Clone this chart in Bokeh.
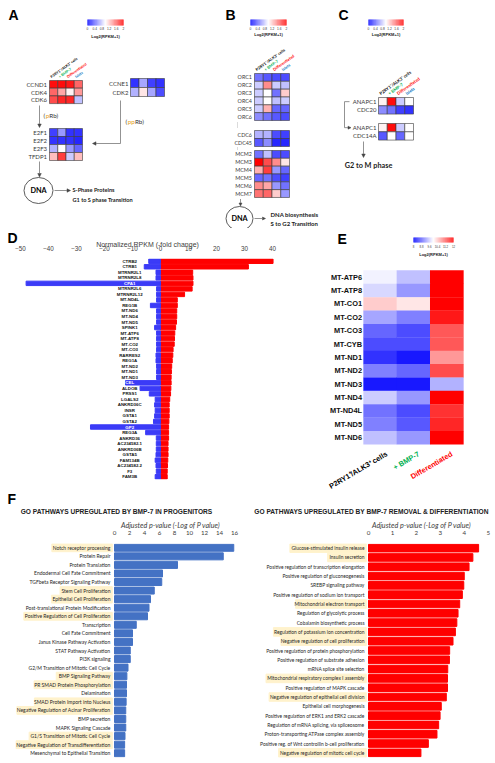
import numpy as np
from bokeh.plotting import figure
from bokeh.models import Range1d, Arrow, NormalHead, FixedTicker, LinearColorMapper, ColumnDataSource
from bokeh.layouts import row, column
from bokeh.transform import transform
from bokeh.core.properties import value
from bokeh.embed import file_html
from bokeh.resources import INLINE

# ---------------- DATA ----------------
condition_labels = ["P2RY1⁺/ALK3⁺ cells", "+ BMP-7", "Differentiated", "Islets"]
condition_colors = ["#000000", "#00B050", "#FF0000", "#0070C0"]

a_cycd_genes = ["CCND1", "CDK4", "CDK6"]
a_cycd_vals = [[1.95, 1.95, 1.9, 1.6],
               [1.6, 1.35, 1.05, 1.4],
               [1.7, 1.85, 1.85, 0.75]]
a_cyce_genes = ["CCNE1", "CDK2"]
a_cyce_vals = [[0.2, 0.65, 0.25, 0.2],
               [0.7, 1.1, 0.65, 0.3]]
a_e2f_genes = ["E2F1", "E2F2", "E2F3", "TFDP1"]
a_e2f_vals = [[0.25, 0.6, 0.2, 0.2],
              [0.2, 0.2, 0.2, 0.15],
              [0.7, 1.0, 0.6, 0.4],
              [1.25, 1.75, 0.8, 1.25]]

b_orc_genes = ["ORC1", "ORC2", "ORC3", "ORC4", "ORC5", "ORC6"]
b_orc_vals = [[0.45, 0.35, 0.3, 0.3],
              [0.8, 1.45, 0.8, 0.75],
              [0.8, 1.0, 0.45, 1.2],
              [0.8, 1.0, 0.75, 0.8],
              [0.8, 1.3, 0.4, 0.4],
              [0.55, 0.45, 0.35, 0.3]]
b_cdc_genes = ["CDC6", "CDC45"]
b_cdc_vals = [[0.7, 0.7, 0.3, 0.25],
              [0.35, 0.55, 0.15, 0.15]]
b_mcm_genes = ["MCM2", "MCM3", "MCM4", "MCM5", "MCM6", "MCM7"]
b_mcm_vals = [[0.45, 0.75, 0.3, 0.3],
              [2.0, 1.7, 1.45, 1.1],
              [1.3, 1.75, 0.6, 0.4],
              [0.4, 0.45, 0.3, 0.25],
              [1.45, 1.35, 0.6, 0.45],
              [1.55, 1.6, 1.2, 0.6]]

c_apc_genes = ["ANAPC1", "CDC20"]
c_apc_vals = [[1.05, 1.95, 0.8, 1.0],
              [0.55, 0.45, 0.25, 0.2]]
c_cdc14_genes = ["ANAPC1", "CDC14A"]
c_cdc14_vals = [[1.05, 1.95, 0.8, 1.0],
                [0.35, 1.0, 0.4, 1.0]]

abc_ticks = [0, 0.4, 0.8, 1.2, 1.6, 2]
e_ticks = [8, 8.8, 9.6, 10.4, 11.2, 12]

d_title = "Normalized RPKM (-fold change)"
d_genes = ["CTRB2", "CTRB1", "MTRNR2L1", "MTRNR2L8", "CPA1", "MTRNR2L6", "MTRNR2L12",
           "MT-ND4L", "REG1B", "MT-ND6", "MT-ND4", "MT-ND5", "SPINK1", "MT-ATP6", "MT-ATP8",
           "MT-CO2", "MT-CO3", "RARRES2", "REG1A", "MT-ND2", "MT-ND1", "MT-ND3", "CEL", "ALDOB",
           "PRSS1", "LGALS2", "ANKRD36C", "INSR", "GSTA1", "GSTA2", "GP2", "REG3A", "ANKRD36",
           "AC234582.1", "ANKRD36B", "GSTA5", "FAM134B", "AC234582.2", "F3", "FAM3B"]
d_up = [40.2, 31.4, 11.5, 11.6, 11.6, 11.3, 8.6, 6.0, 6.0, 5.8, 5.8, 5.7, 5.4, 5.1, 5.0,
        4.9, 4.5, 4.4, 4.2, 4.0, 3.9, 3.8, 3.8, 3.7, 3.6, 3.3, 3.1, 3.1, 3.1, 3.0,
        2.9, 2.9, 2.9, 2.7, 2.7, 2.7, 2.6, 2.5, 2.4, 2.4]
d_down = [-4.2, -5.8, -1.6, -1.6, -48.0, -1.4, -1.4, -1.4, -3.6, -1.4, -1.4, -1.4, -2.1, -1.4, -1.4,
          -1.4, -1.4, -1.6, -1.6, -1.4, -1.4, -1.4, -12.5, -7.3, -4.0, -1.9, -2.1, -1.9, -2.1, -2.5,
          -25.0, -5.3, -1.5, -1.5, -1.5, -1.6, -1.9, -1.6, -1.5, -1.9]
d_ticks = [-50, -40, -30, -20, -10, 0, 10, 20, 30, 40]
d_white_labels = ["CPA1", "CEL", "GP2"]

e_genes = ["MT-ATP6", "MT-ATP8", "MT-CO1", "MT-CO2", "MT-CO3", "MT-CYB", "MT-ND1",
           "MT-ND2", "MT-ND3", "MT-ND4", "MT-ND4L", "MT-ND5", "MT-ND6"]
e_conditions = ["P2RY1⁺/ALK3⁺ cells", "+ BMP-7", "Differentiated"]
e_vals = [[9.9, 9.5, 12.0],
          [9.7, 9.2, 12.0],
          [10.4, 10.2, 12.0],
          [9.3, 9.0, 11.8],
          [8.8, 8.6, 11.3],
          [8.6, 8.6, 11.3],
          [8.4, 8.2, 10.8],
          [9.0, 8.8, 11.4],
          [8.2, 8.2, 9.4],
          [9.6, 9.2, 12.0],
          [8.9, 8.6, 11.6],
          [9.0, 8.7, 11.7],
          [9.5, 9.2, 12.0]]

f1_title = "GO PATHWAYS UPREGULATED BY BMP-7 IN PROGENITORS"
f2_title = "GO PATHWAYS UPREGULATED BY BMP-7 REMOVAL & DIFFERENTIATION"
f_axis_title = "Adjusted p-value (-Log of P value)"
f1_terms = ["Notch receptor processing", "Protein Repair", "Protein Translation",
            "Endodermal Cell Fate Commitment", "TGFbeta Receptor Signaling Pathway",
            "Stem Cell Proliferation", "Epithelial Cell Proliferation",
            "Post-translational Protein Modification", "Positive Regulation of Cell Proliferation",
            "Transcription", "Cell Fate Commitment", "Janus Kinase Pathway Activation",
            "STAT Pathway Activation", "PI3K signaling", "G2/M Transition of Mitotic Cell Cycle",
            "BMP Signaling Pathway", "PR SMAD Protein Phosphorylation", "Delamination",
            "SMAD Protein Import into Nucleus", "Negative Regulation of Acinar Proliferation",
            "BMP secretion", "MAPK Signaling Cascade", "G1/S Transition of Mitotic Cell Cycle",
            "Negative Regulation of Transdifferentiation", "Mesenchymal to Epithelial Transition"]
f1_vals = [15.9, 14.5, 8.4, 6.4, 6.3, 5.3, 4.8, 4.6, 4.4, 2.9, 2.4, 2.4, 2.1, 2.1, 1.8,
           1.65, 1.6, 1.6, 1.55, 1.5, 1.5, 1.5, 1.4, 1.35, 1.35]
f1_highlight = [1, 0, 0, 0, 0, 1, 1, 0, 1, 0, 0, 0, 0, 0, 0, 1, 1, 0, 1, 1, 0, 0, 1, 1, 0]
f1_ticks = [0, 2, 4, 6, 8, 10, 12, 14, 16]

f2_terms = ["Glucose-stimulated insulin release", "Insulin secretion",
            "Positive regulation of transcription elongation",
            "Positive regulation of gluconeogenesis", "SREBP signaling pathway",
            "Positive regulation of sodium ion transport", "Mitochondrial electron transport",
            "Regulation of glycolytic process", "Cobalamin biosynthetic process",
            "Regulation of potassium ion concentration", "Negative regulation of cell proliferation",
            "Positive regulation of protein phosphorylation",
            "Positive regulation of substrate adhesion", "mRNA splice site selection",
            "Mitochondrial respiratory complex I assembly", "Positive regulation of MAPK cascade",
            "Negative regulation of epithelial cell division", "Epithelial cell morphogenesis",
            "Positive regulation of ERK1 and ERK2 cascade",
            "Regulation of mRNA splicing, via spliceosome",
            "Proton-transporting ATPase complex assembly",
            "Positive reg. of Wnt controllin b-cell proliferation",
            "Negative regulation of mitotic cell cycle"]
f2_vals = [4.6, 4.36, 4.2, 4.0, 3.98, 3.92, 3.81, 3.74, 3.69, 3.63, 3.53, 3.39, 3.38,
           3.31, 3.3, 3.3, 3.25, 3.04, 2.99, 2.93, 2.86, 2.5, 2.19]
f2_highlight = [1, 1, 0, 0, 0, 0, 1, 0, 0, 1, 1, 0, 0, 0, 1, 0, 1, 0, 0, 0, 0, 0, 1]
f2_ticks = [0, 1, 2, 3, 4, 5]


# ---------------- HELPERS ----------------
def bwr_palette(n=256):
    cols = []
    for i in range(n):
        t = i / (n - 1)
        if t < 0.5:
            s = t / 0.5
            r = g = int(round(255 * s)); b = 255
        else:
            s = (t - 0.5) / 0.5
            r = 255; g = b = int(round(255 * (1 - s)))
        cols.append(f"#{r:02x}{g:02x}{b:02x}")
    return cols

BWR = bwr_palette()
OV = dict(level="overlay")
PX = dict(x_range_name="px", y_range_name="px", level="overlay")


def canvas(w, h):
    p = figure(width=w, height=h, x_range=Range1d(0, w), y_range=Range1d(h, 0),
               x_axis_type=None, y_axis_type=None, output_backend="svg",
               toolbar_location=None, min_border=0)
    p.outline_line_color = None
    return p


def txt(p, x, y, s, size, color="#000000", font="Liberation Sans", style="normal",
        align="left", baseline="middle", angle=0.0, **rk):
    if not isinstance(s, (list, tuple)):
        x, y, s = [x], [y], [s]
    kw = dict(text_font=value(font), text_font_size=value(f"{size}px"), text_font_style=style,
              text_align=align, text_baseline=baseline, angle=angle)
    kw.update(rk)
    if isinstance(color, (list, tuple)):
        src = ColumnDataSource(dict(x=list(x), y=list(y), t=list(s), c=list(color)))
        p.text(x="x", y="y", text="t", text_color="c", source=src, **kw)
    else:
        p.text(x=list(x), y=list(y), text=list(s), text_color=color, **kw)


def heatmap(p, genes, vals, x0, y0, cw, rh, mapper, gap=2.5, lsize=6.0, lfont="Lato",
            lstyle="normal", lcolor="#3a3a3a", border="#3a3a3a", **rk):
    xs, ys, vs = [], [], []
    for i, rv in enumerate(vals):
        for j, v in enumerate(rv):
            xs.append(x0 + (j + 0.5) * cw)
            ys.append(y0 + (i + 0.5) * rh)
            vs.append(v)
    src = ColumnDataSource(dict(x=xs, y=ys, v=vs))
    if border:
        p.rect(x="x", y="y", width=cw, height=rh, source=src, fill_color=transform("v", mapper),
               line_color=border, line_width=0.6, **rk)
    else:
        p.rect(x="x", y="y", width=cw * 1.01, height=rh * 1.02, source=src,
               fill_color=transform("v", mapper), line_color=None, **rk)
    ly = [y0 + (i + 0.5) * rh for i in range(len(genes))]
    txt(p, [x0 - gap] * len(genes), ly, list(genes), lsize, color=lcolor, font=lfont,
        style=lstyle, align="right", **rk)


def colorbar(p, x0, x1, ytop, ybot, mapper, ticks, tsize, title_y, title_size, **rk):
    n = 80
    lo, hi = mapper.low, mapper.high
    w = (x1 - x0) / n
    src = ColumnDataSource(dict(x=x0 + (np.arange(n) + 0.5) * w, y=[(ytop + ybot) / 2] * n,
                                v=np.linspace(lo, hi, n)))
    p.rect(x="x", y="y", width=w * 1.15, height=ybot - ytop, source=src,
           fill_color=transform("v", mapper), line_color=None, **rk)
    tx = [x0 + (t - lo) / (hi - lo) * (x1 - x0) for t in ticks]
    txt(p, tx, [ybot + 3.3] * len(ticks), [f"{t:g}" for t in ticks], tsize, color="#333333",
        align="center", **rk)
    txt(p, (x0 + x1) / 2, title_y, "Log2(RPKM+1)", title_size, color="#222222", style="bold",
        align="center", **rk)


def headers(p, x0, cw, ytop, size, angle=0.62):
    xs = [x0 + (j + 0.5) * cw - 1.5 for j in range(4)]
    txt(p, xs, [ytop - 1.5] * 4, condition_labels, size, color=condition_colors, font="Lato",
        style="bold", align="left", baseline="bottom", angle=angle)


def arrow(p, x0, y0, x1, y1, size=3.5):
    p.add_layout(Arrow(end=NormalHead(size=size, line_color="#444444", fill_color="#444444",
                                      line_width=0.5),
                       x_start=x0, y_start=y0, x_end=x1, y_end=y1,
                       line_color="#777777", line_width=0.8))


def dna(p, cx, cy, w, h):
    p.ellipse(x=[cx], y=[cy], width=w, height=h, fill_color=None, line_color="#333333",
              line_width=0.8)
    txt(p, cx, cy, "DNA", 7.3, font="Lato", style="bold", align="center")


def rb_label(p, x, y, p_part):
    txt(p, x, y, "(", 6.3, color="#333333", font="Lato")
    txt(p, x + 2.2, y, p_part, 6.3, color="#E8A317", font="Lato")
    txt(p, x + 2.2 + 3.6 * len(p_part), y, "Rb)", 6.3, color="#333333", font="Lato")


def text_w(s, fs):
    w = 0.0
    for ch in s:
        if ch in "ilj|.,:;'!":
            w += 0.24
        elif ch in "ftrI ()-/":
            w += 0.31
        elif ch in "mwMW":
            w += 0.8
        elif ch.isupper():
            w += 0.64
        elif ch.isdigit():
            w += 0.58
        else:
            w += 0.52
    return w * fs


def style_top_axis(p, ticks, font, size, standoff):
    p.xaxis.ticker = FixedTicker(ticks=ticks)
    p.xaxis.axis_line_color = None
    p.xaxis.major_tick_line_color = None
    p.xaxis.minor_tick_line_color = None
    p.xaxis.major_label_standoff = standoff
    p.xaxis.major_label_text_font = font
    p.xaxis.major_label_text_font_size = size
    p.xaxis.major_label_text_color = "#404040"
    p.grid.visible = False
    p.outline_line_color = None


cmap_abc = LinearColorMapper(palette=BWR, low=0, high=2)
cmap_e = LinearColorMapper(palette=BWR, low=8, high=12)

# ---------------- PANEL A (x 0-168) ----------------
pa = canvas(168, 228)
txt(pa, 8, 6.5, "A", 14, style="bold", baseline="top")
colorbar(pa, 87, 123, 19, 25, cmap_abc, abc_ticks, 3.2, 35.5, 4.0)
heatmap(pa, a_cycd_genes, a_cycd_vals, 49, 80, 8.25, 7.7, cmap_abc)
headers(pa, 49, 8.25, 80, 3.7)
heatmap(pa, a_cyce_genes, a_cyce_vals, 130, 78, 8.5, 9.0, cmap_abc, gap=2)
heatmap(pa, a_e2f_genes, a_e2f_vals, 49, 128, 8.25, 8.0, cmap_abc)
arrow(pa, 39, 105, 39, 127)
rb_label(pa, 43, 115, "p")
pa.line(x=[120, 120], y=[100, 143], line_color="#777777", line_width=0.8)
arrow(pa, 120, 143, 92, 143)
rb_label(pa, 125, 121, "pp")
arrow(pa, 39, 161, 39, 176.5)
dna(pa, 38, 190, 29, 26)
arrow(pa, 54, 190, 70, 190)
txt(pa, 72, 189.3, "S-Phase Proteins", 5.6, color="#222222", font="Lato", style="bold")
txt(pa, 72, 199.3, "G1 to S phase Transition", 5.6, color="#222222", font="Lato", style="bold")

# ---------------- PANEL B (x 168-333) ----------------
pb = canvas(165, 228)
txt(pb, 57, 6.5, "B", 14, style="bold", baseline="top")
colorbar(pb, 82, 118, 19, 25, cmap_abc, abc_ticks, 3.2, 34, 4.0)
heatmap(pb, b_orc_genes, b_orc_vals, 86, 73, 8.75, 7.83, cmap_abc, lsize=5.4)
headers(pb, 86, 8.75, 73, 4.0)
heatmap(pb, b_cdc_genes, b_cdc_vals, 86, 130, 8.75, 8.0, cmap_abc, lsize=5.4)
heatmap(pb, b_mcm_genes, b_mcm_vals, 86, 150, 8.75, 7.83, cmap_abc, lsize=5.4)
pb.line(x=[69, 69], y=[122, 128], line_color="#999999", line_width=0.7, line_dash="1 1")
pb.line(x=[69, 69], y=[147, 149.5], line_color="#999999", line_width=0.7, line_dash="1 1")
arrow(pb, 72, 198.5, 72, 205.5, size=3)
dna(pb, 71, 218, 27, 24)
arrow(pb, 86, 218, 97, 218, size=3)
txt(pb, 102, 213.5, "DNA biosynthesis", 6.0, color="#222222", font="Lato", style="bold")
txt(pb, 102, 222.5, "S to G2 Transition", 6.0, color="#222222", font="Lato", style="bold")

# ---------------- PANEL C (x 333-495) ----------------
pc = canvas(162, 228)
txt(pc, 5, 6.5, "C", 14, style="bold", baseline="top")
colorbar(pc, 35, 70, 19, 25, cmap_abc, abc_ticks, 3.2, 34, 4.0)
heatmap(pc, c_apc_genes, c_apc_vals, 45, 97, 8.75, 8.3, cmap_abc, gap=2)
headers(pc, 45, 8.75, 97, 4.3)
heatmap(pc, c_cdc14_genes, c_cdc14_vals, 45, 123, 8.75, 8.3, cmap_abc, gap=2)
pc.line(x=[16, 11, 11], y=[101.15, 101.15, 127.15], line_color="#777777", line_width=0.8)
arrow(pc, 11, 127.15, 17.5, 127.15, size=3)
arrow(pc, 30, 141, 30, 157)
txt(pc, 35, 165, "G2 to M phase", 7.3, color="#222222", font="Lato", style="bold", align="center")

# ---------------- PANEL D (x 0-305, y 228-490) ----------------
d_rows = list(range(len(d_genes)))
pd = figure(width=305, height=262, x_range=Range1d(-57.143, 51.79),
            y_range=Range1d(len(d_genes) - 0.5, -0.5),
            x_axis_location="above", y_axis_type=None, output_backend="svg",
            toolbar_location=None, min_border_left=0, min_border_right=0,
            min_border_top=30, min_border_bottom=11)
pd.extra_x_ranges = {"px": Range1d(0, 305)}
pd.extra_y_ranges = {"px": Range1d(251, 30)}
pd.hbar(y=d_rows, left=0, right=d_up, height=0.8, color="#FF0000")
pd.hbar(y=d_rows, left=d_down, right=0, height=0.8, color="#3B3BF7")
d_label_colors = ["#FFFFFF" if g in d_white_labels else "#111111" for g in d_genes]
pd.text(x=[-11] * len(d_genes), y=d_rows, text=d_genes, text_color=d_label_colors,
        text_font=value("Liberation Sans"), text_font_size=value("4.4px"), text_font_style="bold",
        text_align="center", text_baseline="middle")
style_top_axis(pd, d_ticks, "Liberation Sans", "6.3px", 2)
txt(pd, 7, 1.5, "D", 14, style="bold", baseline="top", **PX)
txt(pd, 147, 16, d_title, 7.0, color="#404040", align="center", **PX)

# ---------------- PANEL E (x 305-495, y 228-490) ----------------
pe = figure(width=190, height=262, x_range=Range1d(0, 190), y_range=Range1d(251, 30),
            x_axis_type=None, y_axis_type=None, output_backend="svg", toolbar_location=None,
            min_border_left=0, min_border_right=0, min_border_top=30, min_border_bottom=11)
pe.outline_line_color = None
txt(pe, 32, 2.5, "E", 14, style="bold", baseline="top", **OV)
colorbar(pe, 108, 148, 9, 14, cmap_e, e_ticks, 2.8, 26, 4.0, **OV)
heatmap(pe, e_genes, e_vals, 58, 42, 33.33, 13.38, cmap_e, gap=1.5, lsize=7.4,
        lfont="Liberation Sans", lstyle="bold", lcolor="#111111", border=None, **OV)
txt(pe, [79, 111, 144], [221, 221, 221], e_conditions, 7.3, color=condition_colors[:3],
    style="bold", align="right", baseline="top", angle=0.53, **OV)


# ---------------- PANEL F (y 490-763) ----------------
def go_chart(terms, vals, highlight, ticks, width, zero_px, px_per_unit, bar_color, fs,
             title, title_cx, axis_cx, show_letter):
    rows = list(range(len(terms)))
    xr = (-zero_px / px_per_unit, (width - zero_px) / px_per_unit)
    p = figure(width=width, height=273, x_range=Range1d(*xr),
               y_range=Range1d(len(terms) - 0.5, -0.5),
               x_axis_location="above", y_axis_type=None, output_backend="svg",
               toolbar_location=None, min_border_left=0, min_border_right=0,
               min_border_top=53, min_border_bottom=6)
    p.extra_x_ranges = {"px": Range1d(0, width)}
    p.extra_y_ranges = {"px": Range1d(267, 53)}
    lab_x = -4.0 / px_per_unit
    hl_rows = [i for i, h in zip(rows, highlight) if h]
    hl_left = [lab_x - (text_w(terms[i], fs) + 1.8) / px_per_unit for i in hl_rows]
    hl_right = [lab_x + 1.8 / px_per_unit for i in hl_rows]
    p.hbar(y=hl_rows, left=hl_left, right=hl_right, height=0.92, color="#FFF2CC")
    p.hbar(y=rows, left=0, right=vals, height=0.82, color=bar_color)
    p.text(x=[lab_x] * len(terms), y=rows, text=terms, text_color="#262626",
           text_font=value("Lato"), text_font_size=value(f"{fs}px"),
           text_align="right", text_baseline="middle")
    style_top_axis(p, ticks, "Lato", "6.2px", 3)
    if show_letter:
        txt(p, 7, 0.5, "F", 14, style="bold", baseline="top", **PX)
    txt(p, title_cx, 21, title, 6.6, color="#222222", style="bold", align="center", **PX)
    txt(p, axis_cx, 34.5, f_axis_title, 7.2, color="#404040", font="Lato", style="italic",
        align="center", **PX)
    return p


pf1 = go_chart(f1_terms, f1_vals, f1_highlight, f1_ticks, 239, 114, 7.5, "#4472C4", 5.0,
               f1_title, 116, 170, True)
pf2 = go_chart(f2_terms, f2_vals, f2_highlight, f2_ticks, 256, 129, 23.94, "#FF0000", 4.9,
               f2_title, 132, 182, False)

layout = column(row(pa, pb, pc), row(pd, pe), row(pf1, pf2))

with open("out.html", "w") as f:
    f.write(file_html(layout, INLINE))
